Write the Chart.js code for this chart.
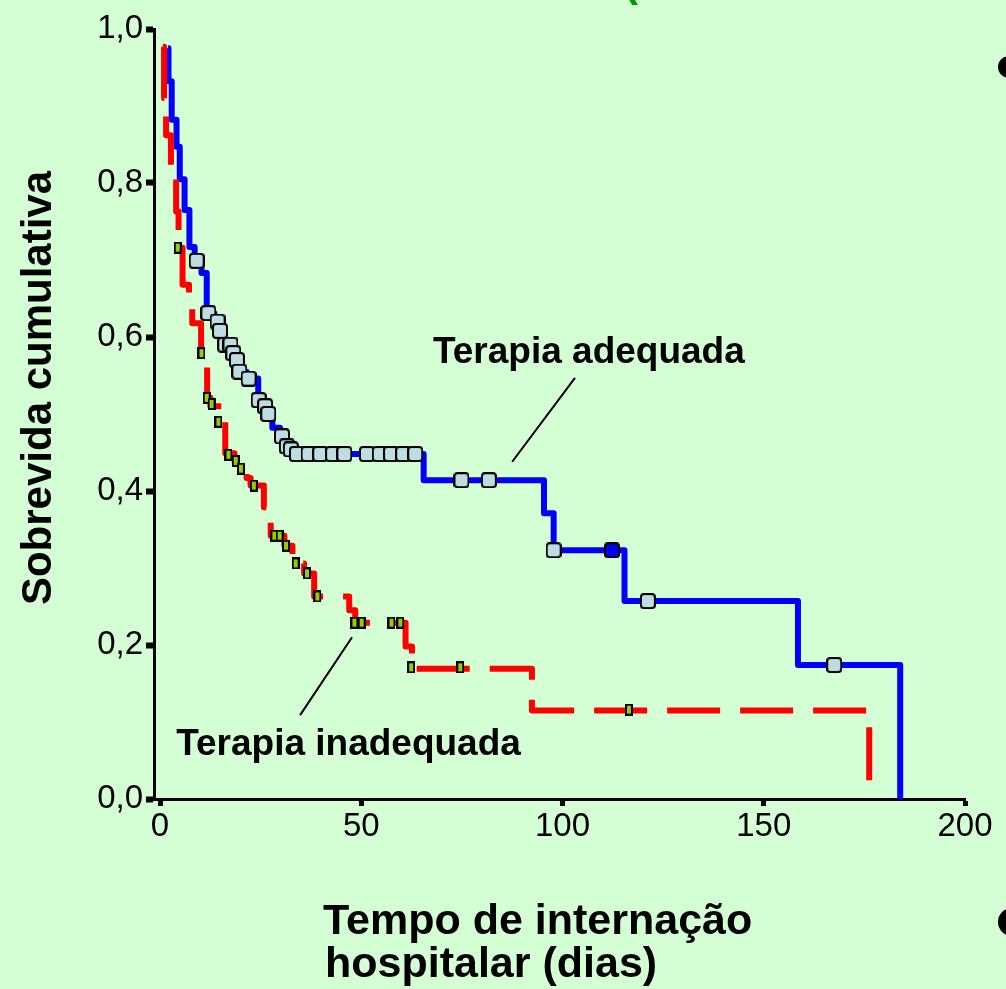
<!DOCTYPE html>
<html lang="pt">
<head>
<meta charset="utf-8">
<title>Sobrevida cumulativa</title>
<script src="https://cdn.jsdelivr.net/npm/chart.js@4.4.1/dist/chart.umd.min.js"></script>
<style>
html, body { margin: 0; padding: 0; background: #d4fed4; }
canvas { display: block; }
</style>
</head>
<body>
<canvas id="km" width="1006" height="989"></canvas>
<script>
// Curva de Kaplan–Meier: dia de cada queda e sobrevida logo depois dela
const adequadaTempo  = [2.0, 2.1, 2.9, 4.1, 4.9, 6.1, 7.3, 8.6, 10.3, 11.6, 13.5, 14.7, 16.0, 18.0, 19.0, 19.5, 21.5, 24.4, 25.9, 26.7, 27.9, 29.8, 31.2, 32.2, 65.5, 95.4, 97.8, 115.4, 158.5, 183.9];
const adequadaSobrev = [0.975, 0.932, 0.882, 0.847, 0.805, 0.765, 0.717, 0.699, 0.683, 0.631, 0.620, 0.608, 0.590, 0.579, 0.570, 0.555, 0.546, 0.518, 0.510, 0.500, 0.482, 0.471, 0.458, 0.448, 0.414, 0.371, 0.323, 0.257, 0.174, 0.000];

// Pacientes censurados (terapia adequada)
const adequadaCensTempo  = [9.1, 12.0, 14.3, 14.9, 16.2, 17.5, 18.2, 19.1, 19.7, 22.0, 24.5, 26.1, 26.9, 30.3, 31.5, 32.5, 34.0, 36.9, 39.8, 43.0, 45.8, 51.4, 54.6, 57.4, 60.4, 63.4, 74.9, 81.7, 97.8, 121.2, 167.5];
const adequadaCensSobrev = [0.699, 0.631, 0.620, 0.608, 0.590, 0.590, 0.579, 0.570, 0.555, 0.546, 0.518, 0.510, 0.500, 0.471, 0.458, 0.454, 0.448, 0.448, 0.448, 0.448, 0.448, 0.448, 0.448, 0.448, 0.448, 0.448, 0.414, 0.414, 0.323, 0.257, 0.174];
// Censura destacada (marcador cheio)
const adequadaCensDestTempo  = [112.3];
const adequadaCensDestSobrev = [0.323];

const inadequadaTempo  = [0.7, 1.0, 1.5, 2.7, 4.0, 4.6, 5.6, 7.2, 8.0, 10.2, 11.7, 12.5, 15.5, 16.2, 18.5, 19.8, 21.5, 22.5, 25.8, 27.5, 30.9, 32.9, 35.8, 38.3, 47.0, 48.5, 61.0, 62.6, 92.4, 176.2];
const inadequadaSobrev = [0.977, 0.910, 0.862, 0.810, 0.763, 0.716, 0.668, 0.640, 0.618, 0.579, 0.521, 0.510, 0.490, 0.449, 0.439, 0.429, 0.417, 0.407, 0.379, 0.342, 0.329, 0.306, 0.293, 0.263, 0.245, 0.229, 0.198, 0.169, 0.115, 0.000];

const inadequadaCensTempo  = [4.4, 10.3, 11.6, 12.8, 14.5, 17.0, 18.8, 20.1, 23.3, 28.4, 29.7, 31.3, 33.7, 36.5, 39.1, 48.3, 50.1, 57.5, 59.7, 62.4, 74.6, 116.5];
const inadequadaCensSobrev = [0.716, 0.579, 0.521, 0.513, 0.490, 0.447, 0.439, 0.429, 0.407, 0.342, 0.342, 0.329, 0.306, 0.293, 0.263, 0.229, 0.229, 0.229, 0.229, 0.171, 0.171, 0.116];

const xTicks = [0, 50, 100, 150, 200];
const yTicks = [0, 0.2, 0.4, 0.6, 0.8, 1.0];

const pares = (t, s) => t.map((v, i) => ({ x: v, y: s[i] }));

// Marcadores de censura desenhados em canvas próprios
function caixaArredondada(w, h, r, fill) {
  const c = document.createElement('canvas');
  c.width = w; c.height = h;
  const g = c.getContext('2d');
  g.beginPath();
  g.roundRect(1, 1, w - 2, h - 2, r);
  g.fillStyle = fill;
  g.fill();
  g.lineWidth = 2;
  g.strokeStyle = '#000';
  g.stroke();
  return c;
}
function barrinha(w, h, fill) {
  const c = document.createElement('canvas');
  c.width = w; c.height = h;
  const g = c.getContext('2d');
  g.fillStyle = '#000';
  g.fillRect(0, 0, w, h);
  g.fillStyle = fill;
  g.fillRect(2, 2, w - 4, h - 4);
  return c;
}
const marcaAzul = caixaArredondada(16, 16, 3, '#bedde2');
const marcaAzulCheia = caixaArredondada(16, 16, 3, '#0000ee');
const marcaVerde = barrinha(8, 12, '#99cc00');

const FONTE = '"Liberation Sans", Arial, sans-serif';

// Textos, linhas de chamada e detalhes do slide
const anotacoes = {
  id: 'anotacoes',
  beforeDraw(chart) {
    const ctx = chart.ctx;
    ctx.save();
    ctx.fillStyle = '#d4fed4';
    ctx.fillRect(0, 0, chart.width, chart.height);
    // resto do título do slide, cortado na borda superior
    ctx.fillStyle = '#009900';
    ctx.font = 'bold 42px ' + FONTE;
    ctx.textBaseline = 'alphabetic';
    ctx.fillText('(', 624, -4);
    ctx.restore();
  },
  afterDraw(chart) {
    const ctx = chart.ctx;
    const sx = chart.scales.x, sy = chart.scales.y;
    const px = v => sx.getPixelForValue(v);
    const py = v => sy.getPixelForValue(v);
    ctx.save();

    // linhas de chamada
    ctx.strokeStyle = '#000';
    ctx.lineWidth = 2;
    ctx.beginPath();
    ctx.moveTo(px(103.1), py(0.547));
    ctx.lineTo(px(87.5), py(0.438));
    ctx.moveTo(px(47.7), py(0.210));
    ctx.lineTo(px(34.8), py(0.109));
    ctx.stroke();

    ctx.fillStyle = '#000';
    ctx.textAlign = 'left';
    ctx.textBaseline = 'alphabetic';
    ctx.font = 'bold 37px ' + FONTE;
    ctx.fillText('Terapia adequada', px(67.8), py(0.566));
    ctx.fillText('Terapia inadequada', px(4.0), py(0.057));

    // títulos dos eixos
    ctx.font = 'bold 43px ' + FONTE;
    ctx.fillText('Tempo de internação', 323, 934);
    ctx.fillText('hospitalar (dias)', 325, 977);

    ctx.save();
    ctx.font = 'bold 42px ' + FONTE;
    ctx.translate(39, 388);
    ctx.rotate(-Math.PI / 2);
    ctx.textAlign = 'center';
    ctx.textBaseline = 'middle';
    ctx.fillText('Sobrevida cumulativa', 0, 0);
    ctx.restore();

    // marcadores de tópico na borda direita
    ctx.beginPath();
    ctx.arc(1009, 67, 11, 0, Math.PI * 2);
    ctx.fill();
    ctx.beginPath();
    ctx.arc(1012, 922, 14, 0, Math.PI * 2);
    ctx.fill();

    ctx.restore();
  }
};

new Chart(document.getElementById('km'), {
  type: 'line',
  data: {
    datasets: [
      {
        label: 'Terapia adequada',
        data: pares(adequadaTempo, adequadaSobrev),
        borderColor: '#0000ff',
        borderWidth: 6,
        stepped: true,
        pointRadius: 0,
        borderJoinStyle: 'round',
        fill: false,
        order: 4
      },
      {
        label: 'Censurados (adequada)',
        data: pares(adequadaCensTempo, adequadaCensSobrev),
        showLine: false,
        pointStyle: marcaAzul,
        pointRadius: 8,
        order: 3
      },
      {
        label: 'Censurado destacado',
        data: pares(adequadaCensDestTempo, adequadaCensDestSobrev),
        showLine: false,
        pointStyle: marcaAzulCheia,
        pointRadius: 8,
        order: 3
      },
      {
        label: 'Terapia inadequada',
        data: pares(inadequadaTempo, inadequadaSobrev),
        borderColor: '#ff0000',
        borderWidth: 6,
        borderDash: [53, 20],
        stepped: true,
        pointRadius: 0,
        borderJoinStyle: 'round',
        fill: false,
        order: 2
      },
      {
        label: 'Censurados (inadequada)',
        data: pares(inadequadaCensTempo, inadequadaCensSobrev),
        showLine: false,
        pointStyle: marcaVerde,
        pointRadius: 6,
        order: 1
      }
    ]
  },
  options: {
    responsive: false,
    animation: false,
    events: [],
    layout: { padding: { top: 29, right: 41, left: 0, bottom: 0 } },
    plugins: { legend: { display: false }, tooltip: { enabled: false } },
    scales: {
      x: {
        type: 'linear',
        min: -1.5,
        max: 200,
        afterBuildTicks: s => { s.ticks = xTicks.map(v => ({ value: v })); },
        afterFit: s => { s.height = 190; },
        ticks: {
          autoSkip: false,
          maxRotation: 0,
          padding: 1,
          color: '#000',
          font: { family: FONTE, size: 33 },
          callback: v => String(v)
        },
        grid: { drawOnChartArea: false, drawTicks: true, tickLength: 7, tickWidth: 5, tickColor: '#000' },
        border: { display: true, color: '#000', width: 3 }
      },
      y: {
        type: 'linear',
        min: 0,
        max: 1,
        afterBuildTicks: s => { s.ticks = yTicks.map(v => ({ value: v })); },
        afterFit: s => { s.width = 154; },
        ticks: {
          autoSkip: false,
          padding: 3,
          color: '#000',
          font: { family: FONTE, size: 33 },
          callback: v => v.toFixed(1).replace('.', ',')
        },
        grid: { drawOnChartArea: false, drawTicks: true, tickLength: 8, tickWidth: 6, tickColor: '#000' },
        border: { display: true, color: '#000', width: 3 }
      }
    }
  },
  plugins: [anotacoes]
});
</script>
</body>
</html>
